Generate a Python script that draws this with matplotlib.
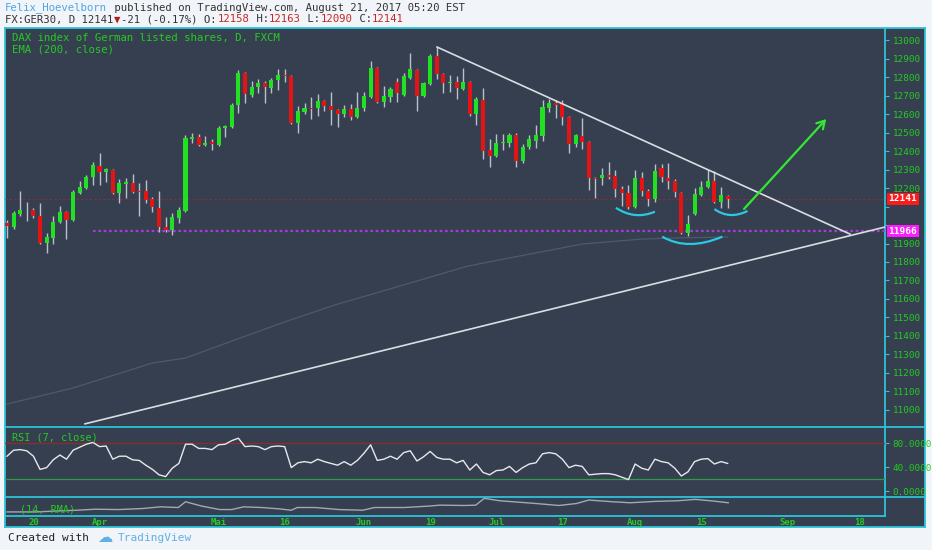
import matplotlib
matplotlib.use("Agg")
import matplotlib.pyplot as plt
from matplotlib.path import Path
from matplotlib.patches import PathPatch
import numpy as np

W, H = 932, 550
MONO = "DejaVu Sans Mono"

# ---------------- data ----------------
opens = [12011, 11989, 12060, 12078, 12081, 12049, 11903, 11930, 12016, 12070,
         12027, 12173, 12200, 12259, 12319, 12286, 12297, 12173, 12222, 12227,
         12184, 12184, 12140, 12092, 11989, 11973, 12038, 12076, 12465, 12476,
         12432, 12449, 12432, 12524, 12530, 12649, 12821, 12703, 12746, 12767,
         12740, 12784, 12811, 12805, 12551, 12611, 12632, 12632, 12670, 12643,
         12622, 12600, 12627, 12584, 12632, 12692, 12849, 12665, 12692, 12773,
         12703, 12794, 12838, 12697, 12762, 12913, 12816, 12767, 12773, 12735,
         12773, 12600, 12676, 12405, 12373, 12443, 12443, 12486, 12346, 12422,
         12454, 12481, 12632, 12659, 12659, 12584, 12438, 12481, 12449, 12254,
         12254, 12270, 12265, 12195, 12173, 12097, 12254, 12184, 12140, 12308,
         12254, 12238, 12173, 11957, 12060, 12162, 12205, 12238, 12124, 12158]
highs = [12027, 12076, 12184, 12124, 12092, 12119, 11957, 12049, 12103, 12076,
         12189, 12238, 12270, 12340, 12389, 12308, 12302, 12249, 12254, 12275,
         12227, 12243, 12151, 12184, 12043, 12065, 12097, 12486, 12497, 12492,
         12481, 12465, 12535, 12540, 12659, 12838, 12826, 12778, 12789, 12778,
         12794, 12843, 12843, 12811, 12643, 12659, 12692, 12708, 12676, 12719,
         12627, 12649, 12654, 12719, 12719, 12886, 12854, 12751, 12746, 12794,
         12821, 12930, 12843, 12773, 12924, 12962, 12821, 12811, 12805, 12849,
         12778, 12692, 12740, 12465, 12492, 12492, 12497, 12497, 12438, 12486,
         12540, 12676, 12681, 12676, 12676, 12589, 12492, 12578, 12454, 12259,
         12308, 12340, 12297, 12211, 12216, 12297, 12286, 12195, 12330, 12330,
         12335, 12249, 12178, 12054, 12200, 12238, 12302, 12292, 12205, 12163]
lows = [11930, 11978, 12049, 12022, 12038, 11897, 11849, 11897, 12011, 11924,
        12022, 12167, 12195, 12216, 12216, 12232, 12168, 12119, 12146, 12173,
        12049, 12119, 12070, 11962, 11962, 11946, 12011, 12070, 12443, 12427,
        12427, 12405, 12427, 12476, 12525, 12605, 12659, 12692, 12713, 12659,
        12713, 12730, 12773, 12546, 12497, 12600, 12573, 12589, 12616, 12540,
        12530, 12584, 12568, 12578, 12616, 12686, 12659, 12638, 12665, 12665,
        12697, 12789, 12616, 12692, 12757, 12789, 12713, 12719, 12681, 12730,
        12589, 12540, 12357, 12314, 12368, 12405, 12422, 12314, 12335, 12411,
        12416, 12454, 12611, 12578, 12540, 12389, 12422, 12411, 12189, 12146,
        12216, 12249, 12151, 12103, 12086, 12092, 12157, 12103, 12124, 12232,
        12195, 12151, 11950, 11941, 12054, 12157, 12200, 12119, 12092, 12090]
closes = [11995, 12065, 12081, 12073, 12049, 11903, 11935, 12016, 12070, 12027,
          12178, 12205, 12259, 12324, 12286, 12302, 12173, 12227, 12232, 12178,
          12178, 12135, 12097, 11989, 11973, 12043, 12081, 12470, 12476, 12432,
          12443, 12438, 12524, 12535, 12649, 12821, 12708, 12746, 12767, 12746,
          12784, 12811, 12805, 12551, 12616, 12632, 12627, 12670, 12643, 12622,
          12600, 12627, 12584, 12632, 12697, 12849, 12665, 12697, 12735, 12713,
          12805, 12843, 12697, 12767, 12913, 12816, 12767, 12773, 12740, 12773,
          12600, 12681, 12400, 12373, 12443, 12449, 12486, 12346, 12422, 12465,
          12486, 12638, 12659, 12649, 12584, 12438, 12486, 12449, 12254, 12249,
          12270, 12259, 12195, 12173, 12097, 12254, 12184, 12140, 12292, 12259,
          12238, 12178, 11957, 12005, 12168, 12205, 12238, 12124, 12162, 12141]

rsi_values = [58, 68, 69, 67, 58, 36, 39, 52, 60, 53,
              68, 73, 78, 81, 74, 75, 53, 58, 58, 52,
              51, 43, 36, 27, 24, 38, 46, 78, 78, 71,
              71, 69, 77, 78, 84, 88, 74, 75, 74, 69,
              74, 75, 74, 39, 47, 49, 47, 53, 49, 46,
              43, 49, 43, 51, 63, 77, 51, 53, 58, 53,
              64, 67, 50, 57, 66, 56, 53, 53, 47, 51,
              35, 45, 31, 27, 34, 35, 41, 31, 39, 45,
              47, 62, 64, 62, 53, 39, 43, 41, 27, 28,
              29, 29, 27, 23, 19, 45, 38, 35, 53, 49,
              47, 38, 25, 32, 49, 53, 54, 45, 49, 46]
rsi_upper, rsi_lower = 80, 20
rsi_ticks = [80, 40, 0]

# EMA(200) read at a few bar positions
ema_pos = [0, 10, 22, 27, 36.5, 42, 49.6, 60, 69.7, 77.5, 87, 96, 101, 109]
ema_val = [11032, 11119, 11254, 11281, 11405, 11476, 11568, 11676, 11778,
           11832, 11897, 11924, 11930, 11935]

# lower (14, RMA) pane, read at bar positions (arbitrary units)
rma_pos = [0, 4.3, 7.9, 10.6, 13.3, 16.9, 20.5, 23.2, 25.9, 27.0, 29.5, 32.2,
           34.0, 35.8, 38.5, 41.2, 43.0, 43.9, 46.6, 50.2, 53.8, 55.6, 60.1,
           63.7, 65.5, 69.1, 70.9, 72.2, 74.5, 77.2, 79.9, 83.5, 86.2, 88.0,
           91.6, 94.3, 97.9, 101.5, 104.1, 106.9, 109.1]
rma_val = [15, 15, 18, 20, 23, 22, 25, 30, 28, 45, 32, 22, 22, 30, 28, 24, 20,
           28, 28, 22, 20, 28, 28, 32, 35, 34, 35, 55, 48, 44, 40, 34, 40, 50,
           45, 42, 46, 48, 52, 47, 42]

date_ticks = [4, 14, 32, 42, 54, 64, 74, 84, 95, 105, 118, 129]
date_labels = ["20", "Apr", "Mai", "16", "Jun", "19", "Jul", "17", "Aug", "15", "Sep", "18"]

price_ticks = list(range(11000, 13001, 100))
support_level = 11966
support_start = 13

# drawings: (bar position, price)
upper_trend = [(65.05, 12962), (127.5, 11951)]
lower_trend = [(11.8, 10925), (132.8, 11989)]
arrow_pts = [(111.2, 12076), (124.2, 12584)]
arcs = [[(92.1, 12093), (95.0, 12054), (98.0, 12072)],
        [(99.1, 11937), (103.3, 11897), (108.2, 11937)],
        [(107.0, 12086), (109.4, 12054), (112.0, 12076)]]

# ---------------- style ----------------
BG = "#f1f4f8"
PANE = "#363f50"
CYAN = "#2cc3da"
GREEN_TXT = "#22cc22"
UP = "#22e022"
DN = "#e41414"
WICK = "#b9c0ca"

fig = plt.figure(figsize=(W / 100, H / 100), dpi=100, facecolor=BG)


def rect(x0, y0, x1, y1):
    return [x0 / W, 1 - y1 / H, (x1 - x0) / W, (y1 - y0) / H]


# background frame in pixel coordinates
axbg = fig.add_axes(rect(5, 28, 925, 527))
axbg.set_facecolor(PANE)
axbg.set_xlim(5, 925)
axbg.set_ylim(527, 28)
axbg.set_xticks([])
axbg.set_yticks([])
for s in axbg.spines.values():
    s.set_color(CYAN)
    s.set_linewidth(1.3)
axbg.plot([5, 925], [427, 427], color=CYAN, lw=1.3)
axbg.plot([5, 925], [497, 497], color=CYAN, lw=1.3)
axbg.plot([5, 885], [516, 516], color=CYAN, lw=1.3)
axbg.plot([885, 885], [28, 516], color=CYAN, lw=1.3)

XMIN, XMAX = -0.3, 132.8

# ---------------- main pane ----------------
ax = fig.add_axes(rect(5, 28, 885, 427))
ax.patch.set_alpha(0)
for s in ax.spines.values():
    s.set_visible(False)
ax.set_xlim(XMIN, XMAX)
ax.set_ylim(10908, 13065)
ax.set_xticks([])
ax.yaxis.tick_right()
ax.set_yticks(price_ticks)
ax.set_yticklabels([str(v) for v in price_ticks])
ax.tick_params(axis="y", colors=CYAN, labelcolor=GREEN_TXT, length=3, width=0.8,
               direction="out", pad=2.5, labelsize=6.7)
for t in ax.get_yticklabels():
    t.set_fontfamily(MONO)

O = np.array(opens, float)
Hh = np.array(highs, float)
L = np.array(lows, float)
C = np.array(closes, float)
idx = np.arange(len(C))
up = C >= O
bottom = np.minimum(O, C)
height = np.maximum(np.abs(C - O), 4)
colors = np.where(up, UP, DN)

# last price line and support line
ax.axhline(C[-1], color="#8a2c3a", lw=0.8, ls=(0, (2, 2)), zorder=1)
ax.hlines(support_level, support_start, XMAX + 5, color="#a63bd6", lw=1.6,
          ls=(0, (1.2, 1.2)), zorder=1)

# EMA (faint)
ax.plot(ema_pos, ema_val, color="#4d5a6d", lw=0.9, zorder=1)

ax.vlines(idx, L, Hh, color=WICK, lw=1.0, zorder=2)
ax.bar(idx, height, bottom=bottom, width=0.62, color=colors, linewidth=0, zorder=3)

# trend lines
for ln in (upper_trend, lower_trend):
    ax.plot([p[0] for p in ln], [p[1] for p in ln], color="#d9dde4", lw=1.2, zorder=4)

# arcs
for a in arcs:
    (x0, y0), (xm, ym), (x2, y2) = a
    cx = 2 * xm - (x0 + x2) / 2
    cy = 2 * ym - (y0 + y2) / 2
    path = Path([(x0, y0), (cx, cy), (x2, y2)], [Path.MOVETO, Path.CURVE3, Path.CURVE3])
    ax.add_patch(PathPatch(path, fill=False, ec="#2ac8e2", lw=1.6, zorder=5))

# arrow
ax.annotate("", xy=arrow_pts[1], xytext=arrow_pts[0],
            arrowprops=dict(arrowstyle="->,head_length=0.55,head_width=0.32",
                            color="#33e833", lw=1.6), zorder=6)

# axis value boxes (cover the tick labels beneath them, as in the reference)
hidden = {12100, 12000}
for t, v in zip(ax.get_yticklabels(), price_ticks):
    if v in hidden:
        t.set_visible(False)


def value_box(val, fc):
    ax.annotate(str(val), xy=(1, val), xycoords=("axes fraction", "data"),
                xytext=(2.5, 0), textcoords="offset points", ha="left", va="center",
                color="white", fontsize=6.8, fontfamily=MONO, fontweight="bold",
                bbox=dict(boxstyle="square,pad=0.18", fc=fc, ec="none"),
                annotation_clip=False, zorder=10)


value_box(int(C[-1]), "#ff1a1a")
value_box(support_level, "#ff1aff")

# ---------------- RSI pane ----------------
axr = fig.add_axes(rect(5, 427, 885, 497))
axr.patch.set_alpha(0)
for s in axr.spines.values():
    s.set_visible(False)
axr.set_xlim(XMIN, XMAX)
axr.set_ylim(-10, 106.7)
axr.set_xticks([])
axr.yaxis.tick_right()
axr.set_yticks(rsi_ticks)
axr.set_yticklabels(["%.4f" % v for v in rsi_ticks])
axr.tick_params(axis="y", colors=CYAN, labelcolor=GREEN_TXT, length=3, width=0.8,
                direction="out", pad=2.5, labelsize=6.7)
for t in axr.get_yticklabels():
    t.set_fontfamily(MONO)
axr.axhline(rsi_upper, color="#8e2b2b", lw=0.9)
axr.axhline(rsi_lower, color="#2f9a48", lw=0.9)
axr.plot(idx, rsi_values, color="#e6e8ec", lw=1.0)

# ---------------- lower pane ----------------
axl = fig.add_axes(rect(5, 497, 885, 516))
axl.patch.set_alpha(0)
for s in axl.spines.values():
    s.set_visible(False)
axl.set_xlim(XMIN, XMAX)
axl.set_ylim(3, 59)
axl.set_yticks([])
axl.plot(rma_pos, rma_val, color="#a3a9b3", lw=1.0)
axl.set_xticks(date_ticks)
axl.set_xticklabels(date_labels)
axl.tick_params(axis="x", length=0, pad=1.2, labelsize=6.5, labelcolor=GREEN_TXT)
for t in axl.get_xticklabels():
    t.set_fontfamily(MONO)
    t.set_fontweight("bold")


# ---------------- texts ----------------
def ptext(x, y, s, color, size=7.7, **kw):
    fig.text(x / W, 1 - y / H, s, color=color, fontsize=size, fontfamily=MONO,
             va="center", ha="left", **kw)


cw = 0.602 * 7.7 * 100 / 72
line1 = [("Felix_Hoevelborn", "#4ea6e6"),
         (" published on TradingView.com, August 21, 2017 05:20 EST", "#333333")]
line2 = [("FX:GER30, D 12141", "#333333"), ("\u25bc", "#b71c1c"),
         ("-21 (-0.17%) O:", "#333333"), ("12158", "#c62828"), (" H:", "#333333"),
         ("12163", "#c62828"), (" L:", "#333333"), ("12090", "#c62828"),
         (" C:", "#333333"), ("12141", "#c62828")]
for yy, segs in ((8, line1), (19.5, line2)):
    xx = 5
    for s, col in segs:
        ptext(xx, yy, s, col)
        xx += cw * len(s)

ptext(12, 38, "DAX index of German listed shares, D, FXCM", GREEN_TXT)
ptext(12, 49, "EMA (200, close)", GREEN_TXT)
ptext(12, 437, "RSI (7, close)", GREEN_TXT, size=7.3)
ptext(20, 510, "(14, RMA)", GREEN_TXT, size=7.3)

ptext(8, 538, "Created with", "#222222", size=8)
fig.text(97 / W, 1 - 538 / H, "\u2601", color="#5fb0e8", fontsize=11,
         fontfamily="DejaVu Sans", va="center", ha="left")
ptext(118, 538, "TradingView", "#5fb0e8", size=8)

fig.savefig("out.png", dpi=100, facecolor=BG)
